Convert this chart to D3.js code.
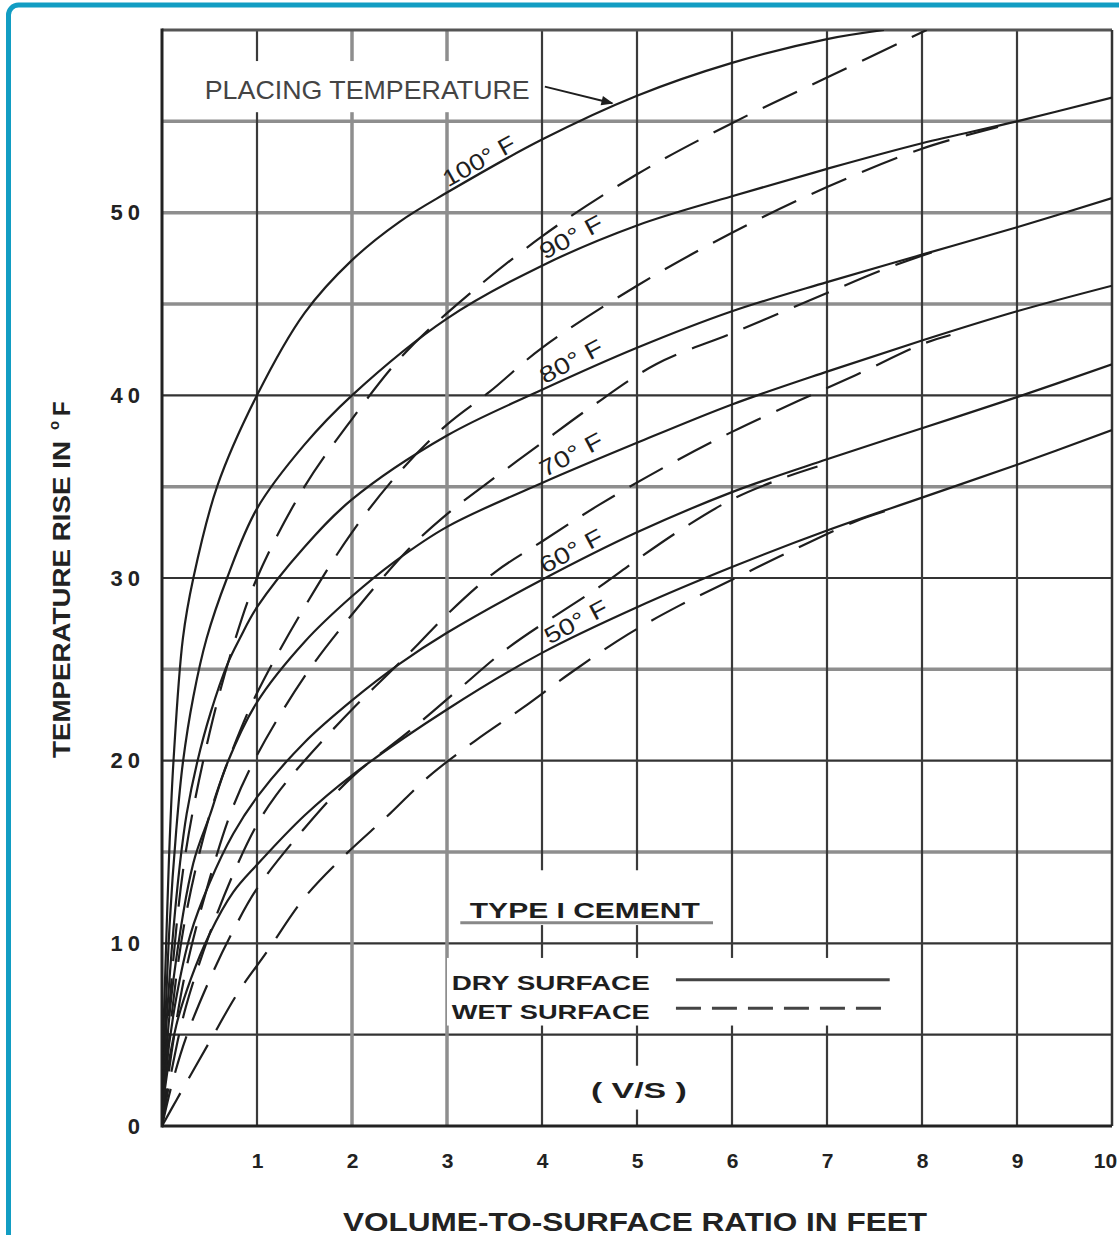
<!DOCTYPE html>
<html>
<head>
<meta charset="utf-8">
<script src="https://cdnjs.cloudflare.com/ajax/libs/d3/7.8.5/d3.min.js"></script>
<style>
  body { margin: 0; background: #fff; }
  svg { display: block; font-family: 'Liberation Sans', Arial, sans-serif; }
</style>
</head>
<body>
<div id="chart"></div>
<script>
// temperature rise vs volume-to-surface ratio (type I cement)

// ticks
const xTicks = [1, 2, 3, 4, 5, 6, 7, 8, 9, 10];
const yTicks = [0, 10, 20, 30, 40, 50];
const xGrid = [1, 2, 3, 4, 5, 6, 7, 8, 9];
const yGrid = [5, 10, 15, 20, 25, 30, 35, 40, 45, 50, 55];

// placing temperatures, one label per curve pair
const placingTemps = ['100° F', '90° F', '80° F', '70° F', '60° F', '50° F'];

// dry surface curves: [V/S in feet, temperature rise in F]
const dry100 = [[0, 0], [0.02, 6], [0.05, 11], [0.08, 15.5], [0.12, 19.9], [0.22, 26.7], [0.33, 30], [0.58, 35], [1, 40], [1.5, 44.5], [2, 47.4], [2.5, 49.5], [3, 51.1], [4, 54.0], [5, 56.4], [6, 58.2], [7, 59.5], [7.6, 60]];
const dry90 = [[0, 0], [0.03, 5], [0.08, 11], [0.15, 16.2], [0.22, 19.9], [0.33, 23.5], [0.47, 26.7], [0.685, 30], [1, 33.8], [1.5, 37.3], [2, 40], [3, 44.2], [4, 47.1], [5, 49.3], [6, 50.9], [7, 52.4], [8, 53.8], [9, 55], [10, 56.3]];
const dry80 = [[0, 0], [0.03, 4], [0.1, 9.5], [0.19, 14.4], [0.26, 17.1], [0.37, 19.9], [0.51, 22.6], [0.69, 25.3], [0.82, 26.7], [1, 28.4], [1.5, 31.7], [2, 34.3], [3, 37.8], [4, 40.3], [5, 42.6], [6, 44.6], [7, 46.2], [8, 47.7], [9, 49.2], [10, 50.8]];
const dry70 = [[0, 0], [0.03, 3], [0.12, 8], [0.33, 14.4], [0.51, 17.1], [0.69, 19.9], [1, 23.2], [1.5, 26.5], [2, 29.0], [2.45, 30.9], [3, 32.8], [4, 35.2], [5, 37.4], [6, 39.5], [7, 41.3], [8, 43.0], [9, 44.6], [10, 46.0]];
const dry60 = [[0, 0], [0.03, 2.5], [0.15, 7], [0.3, 10.5], [0.5, 13.3], [0.75, 16], [1, 18], [1.5, 21], [2, 23.3], [2.5, 25.3], [3, 27.0], [4, 29.9], [5, 32.5], [6, 34.7], [7, 36.5], [8, 38.2], [9, 39.9], [10, 41.7]];
const dry50 = [[0, 0], [0.03, 2], [0.15, 5.5], [0.3, 8], [0.5, 10.5], [0.75, 12.8], [1, 14.3], [1.5, 17.0], [2, 19.2], [3, 22.8], [4, 25.9], [5, 28.4], [6, 30.6], [7, 32.6], [8, 34.4], [9, 36.2], [10, 38.1]];

// wet surface curves
const wet100 = [[0, 0], [0.1, 8], [0.25, 15], [0.5, 21.5], [0.75, 26.3], [1, 30], [1.5, 35], [2, 38.7], [2.5, 42], [3, 44.5], [4, 48.7], [5, 52.1], [6, 54.9], [7, 57.4], [8.05, 60]];
const wet90 = [[0, 0], [0.1, 6], [0.25, 11.5], [0.5, 17], [0.75, 20.7], [1, 23.7], [1.5, 28.4], [2, 32.5], [2.5, 35.8], [3, 38.4], [3.45, 40.2], [4, 42.6], [5, 46.0], [6, 48.9], [7, 51.4], [8, 53.5], [8.8, 54.7]];
const wet80 = [[0, 0], [0.1, 4], [0.25, 8.5], [0.5, 13.5], [0.75, 17.5], [1, 20.3], [1.5, 24.6], [2, 28.0], [2.6, 31.6], [3, 33.5], [3.4, 35.1], [4, 37.4], [4.5, 39.3], [5.2, 41.7], [6, 43.4], [6.5, 44.5], [7, 45.6], [7.6, 46.9], [8.2, 48.0]];
const wet70 = [[0, 0], [0.1, 3], [0.25, 6.5], [0.5, 10.5], [0.75, 13.8], [1, 16.5], [1.2, 18.1], [1.5, 20.0], [2, 22.8], [2.45, 25.1], [2.7, 26.4], [3, 28.0], [3.5, 30.3], [4, 32.0], [4.6, 34.0], [5.3, 36.1], [6, 38.0], [6.7, 39.7], [7.3, 41.1], [8, 42.8], [8.3, 43.3]];
const wet60 = [[0, 0], [0.1, 2.2], [0.25, 4.8], [0.5, 8], [0.75, 10.7], [1, 13], [1.5, 16.3], [2, 19.1], [2.6, 21.6], [3.1, 23.8], [3.65, 26.2], [4.6, 29.5], [5, 31.0], [5.45, 32.6], [6, 34.3], [6.5, 35.4], [6.9, 36.1]];
const wet50 = [[0, 0], [0.15, 1.4], [0.5, 4.6], [0.8, 7.3], [1.1, 9.5], [1.5, 12.5], [1.9, 14.7], [2.4, 17.1], [2.8, 19.1], [3.3, 21.1], [3.8, 22.9], [4.3, 24.8], [4.9, 26.9], [5.45, 28.5], [6, 29.9], [6.55, 31.3], [7.3, 33.1], [7.7, 33.8]];

const dryCurves = [dry100, dry90, dry80, dry70, dry60, dry50];
const wetCurves = [wet100, wet90, wet80, wet70, wet60, wet50];

// where (in V/S) each temperature label starts along its dry curve
const labelAt = [3.03, 4.05, 4.05, 4.05, 4.05, 4.1];

const W = 1119, H = 1235;
const margin = { top: 30, right: 7, bottom: 109, left: 162 };
const ink = '#1e1e1e';
const font = "'Liberation Sans', Arial, sans-serif";

const x = d3.scaleLinear().domain([0, 10]).range([margin.left, W - margin.right]);
const y = d3.scaleLinear().domain([0, 60]).range([H - margin.bottom, margin.top]);

const svg = d3.select('#chart').append('svg').attr('width', W).attr('height', H);

// teal frame round the figure
svg.append('rect')
  .attr('x', 8.5).attr('y', 5)
  .attr('width', W + 40).attr('height', H + 40)
  .attr('rx', 10)
  .attr('fill', 'none')
  .attr('stroke', '#129dc3')
  .attr('stroke-width', 5);

svg.append('defs').append('marker')
  .attr('id', 'arrow')
  .attr('viewBox', '0 0 10 10')
  .attr('refX', 9).attr('refY', 5)
  .attr('markerWidth', 7).attr('markerHeight', 6)
  .attr('orient', 'auto')
  .append('path').attr('d', 'M0,1L10,5L0,9Z').attr('fill', ink);

// ---- grid
const lightY = [15, 25, 35, 45, 50, 55];
const lightX = [2, 3];

const grid = svg.append('g').attr('class', 'grid');
grid.selectAll('line.h')
  .data(yGrid)
  .join('line')
  .attr('class', 'h')
  .attr('x1', x(0)).attr('x2', x(10))
  .attr('y1', (d) => y(d)).attr('y2', (d) => y(d))
  .attr('stroke', (d) => (lightY.includes(d) ? '#8e8e8e' : '#333'))
  .attr('stroke-width', (d) => (lightY.includes(d) ? 3.5 : 2.2));

grid.selectAll('line.v')
  .data(xGrid)
  .join('line')
  .attr('class', 'v')
  .attr('y1', y(0)).attr('y2', y(60))
  .attr('x1', (d) => x(d)).attr('x2', (d) => x(d))
  .attr('stroke', (d) => (lightX.includes(d) ? '#8e8e8e' : '#3a3a3a'))
  .attr('stroke-width', (d) => (lightX.includes(d) ? 3.5 : 2.2));

// white patches behind the notes (grid is broken there)
const masks = [
  [0.36, 3.94, 55.5, 58.3],
  [3.17, 5.82, 11.0, 14.0],
  [3.0, 7.8, 5.5, 9.2],
  [4.45, 5.55, 0.9, 3.3]
];
grid.selectAll('rect')
  .data(masks)
  .join('rect')
  .attr('x', (d) => x(d[0]))
  .attr('y', (d) => y(d[3]))
  .attr('width', (d) => x(d[1]) - x(d[0]))
  .attr('height', (d) => y(d[2]) - y(d[3]))
  .attr('fill', '#fff');

// frame of the plot
const frame = svg.append('g');
frame.append('line').attr('x1', x(0)).attr('x2', x(10)).attr('y1', y(60)).attr('y2', y(60)).attr('stroke', '#555').attr('stroke-width', 3);
frame.append('line').attr('x1', x(10)).attr('x2', x(10)).attr('y1', y(0)).attr('y2', y(60)).attr('stroke', '#333').attr('stroke-width', 2.5);
frame.append('line').attr('x1', x(0)).attr('x2', x(10)).attr('y1', y(0)).attr('y2', y(0)).attr('stroke', '#222').attr('stroke-width', 3);
frame.append('line').attr('x1', x(0)).attr('x2', x(0)).attr('y1', y(0) + 1.5).attr('y2', y(60) - 1.5).attr('stroke', '#222').attr('stroke-width', 3);

// ---- curves
svg.append('clipPath').attr('id', 'plot')
  .append('rect')
  .attr('x', x(0)).attr('y', y(60))
  .attr('width', x(10) - x(0)).attr('height', y(0) - y(60));

const line = d3.line()
  .x((d) => x(d[0]))
  .y((d) => y(d[1]))
  .curve(d3.curveCatmullRom.alpha(0.5));

const curves = svg.append('g').attr('clip-path', 'url(#plot)').attr('fill', 'none');

curves.selectAll('path.wet')
  .data(wetCurves)
  .join('path')
  .attr('class', 'wet')
  .attr('d', line)
  .attr('stroke', ink)
  .attr('stroke-width', 2.2)
  .attr('stroke-dasharray', '38,17');

curves.selectAll('path.dry')
  .data(dryCurves)
  .join('path')
  .attr('class', 'dry')
  .attr('d', line)
  .attr('stroke', ink)
  .attr('stroke-width', 2.2);

// ---- curve labels, lying along each dry curve
function valueAt(curve, v) {
  for (let i = 1; i < curve.length; i++) {
    if (v <= curve[i][0]) {
      const [x0, y0] = curve[i - 1];
      const [x1, y1] = curve[i];
      return y0 + ((y1 - y0) * (v - x0)) / (x1 - x0);
    }
  }
  return curve[curve.length - 1][1];
}

svg.append('g')
  .selectAll('text')
  .data(placingTemps)
  .join('text')
  .attr('transform', (d, i) => {
    const c = dryCurves[i], v = labelAt[i];
    const px = x(v), py = y(valueAt(c, v));
    const ang = (Math.atan2(y(valueAt(c, v + 0.8)) - py, x(v + 0.8) - px) * 180) / Math.PI;
    return `translate(${px},${py}) rotate(${Math.min(ang, -28)})`;
  })
  .attr('y', -4)
  .attr('font-size', 23)
  .attr('fill', ink)
  .attr('textLength', (d) => (d.length > 5 ? 80 : 68))
  .attr('lengthAdjust', 'spacingAndGlyphs')
  .text((d) => d);

// placing temperature note + arrow
svg.append('text')
  .attr('x', x(0.45)).attr('y', y(56.25))
  .attr('font-size', 26)
  .attr('fill', '#444')
  .attr('textLength', 325)
  .attr('lengthAdjust', 'spacingAndGlyphs')
  .text('PLACING TEMPERATURE');

svg.append('line')
  .attr('x1', x(4.03)).attr('y1', y(56.9))
  .attr('x2', x(4.74)).attr('y2', y(valueAt(dry100, 4.74)) - 4)
  .attr('stroke', ink)
  .attr('stroke-width', 2)
  .attr('marker-end', 'url(#arrow)');

// ---- legend
const legend = svg.append('g').attr('fill', ink).attr('font-weight', 'bold');
legend.append('text')
  .attr('x', x(3.24)).attr('y', y(11.4))
  .attr('font-size', 22)
  .attr('textLength', 230).attr('lengthAdjust', 'spacingAndGlyphs')
  .text('TYPE  I  CEMENT');
legend.append('line')
  .attr('x1', x(3.14)).attr('x2', x(5.8))
  .attr('y1', y(11.4) + 5).attr('y2', y(11.4) + 5)
  .attr('stroke', '#888').attr('stroke-width', 3);

legend.append('text')
  .attr('x', x(3.05)).attr('y', y(7.45))
  .attr('font-size', 21)
  .attr('textLength', 198).attr('lengthAdjust', 'spacingAndGlyphs')
  .text('DRY  SURFACE');
legend.append('text')
  .attr('x', x(3.05)).attr('y', y(5.85))
  .attr('font-size', 21)
  .attr('textLength', 198).attr('lengthAdjust', 'spacingAndGlyphs')
  .text('WET SURFACE');

legend.append('line')
  .attr('x1', x(5.41)).attr('x2', x(7.66))
  .attr('y1', y(8.0)).attr('y2', y(8.0))
  .attr('stroke', '#444').attr('stroke-width', 3);
legend.append('line')
  .attr('x1', x(5.41)).attr('x2', x(7.66))
  .attr('y1', y(6.45)).attr('y2', y(6.45))
  .attr('stroke', '#444').attr('stroke-width', 3)
  .attr('stroke-dasharray', '25,11');

legend.append('text')
  .attr('x', x(5.02)).attr('y', y(1.55))
  .attr('text-anchor', 'middle')
  .attr('font-size', 22)
  .attr('textLength', 96).attr('lengthAdjust', 'spacingAndGlyphs')
  .text('( V/S )');

// ---- axes
svg.append('g')
  .attr('transform', `translate(0,${y(0)})`)
  .call(d3.axisBottom(x).tickValues(xTicks).tickSize(0).tickPadding(27).tickFormat(d3.format('d')))
  .call((g) => g.select('.domain').remove())
  .call((g) => g.selectAll('text')
    .attr('font-family', font)
    .attr('font-size', 21).attr('font-weight', 'bold').attr('fill', '#222')
    .attr('dx', (d) => (d === 10 ? -7 : 0)));

svg.append('g')
  .attr('transform', `translate(${x(0)},0)`)
  .call(d3.axisLeft(y).tickValues(yTicks).tickSize(0).tickPadding(17).tickFormat(d3.format('d')))
  .call((g) => g.select('.domain').remove())
  .call((g) => g.selectAll('text')
    .attr('font-family', font)
    .attr('font-size', 22).attr('font-weight', 'bold').attr('fill', '#222')
    .attr('letter-spacing', 5));

// axis titles
svg.append('text')
  .attr('x', 635).attr('y', 1231)
  .attr('text-anchor', 'middle')
  .attr('font-size', 25).attr('font-weight', 'bold').attr('fill', '#222')
  .attr('textLength', 584).attr('lengthAdjust', 'spacingAndGlyphs')
  .text('VOLUME-TO-SURFACE RATIO IN FEET');

const yTitle = svg.append('g')
  .attr('transform', 'translate(70,758) rotate(-90)')
  .attr('font-weight', 'bold').attr('fill', '#222');
yTitle.append('text')
  .attr('font-size', 24)
  .attr('textLength', 317).attr('lengthAdjust', 'spacingAndGlyphs')
  .text('TEMPERATURE RISE IN');
yTitle.append('text')
  .attr('x', 328).attr('y', -11)
  .attr('font-size', 15)
  .text('o');
yTitle.append('text')
  .attr('x', 342).attr('font-size', 24)
  .text('F');
</script>
</body>
</html>
